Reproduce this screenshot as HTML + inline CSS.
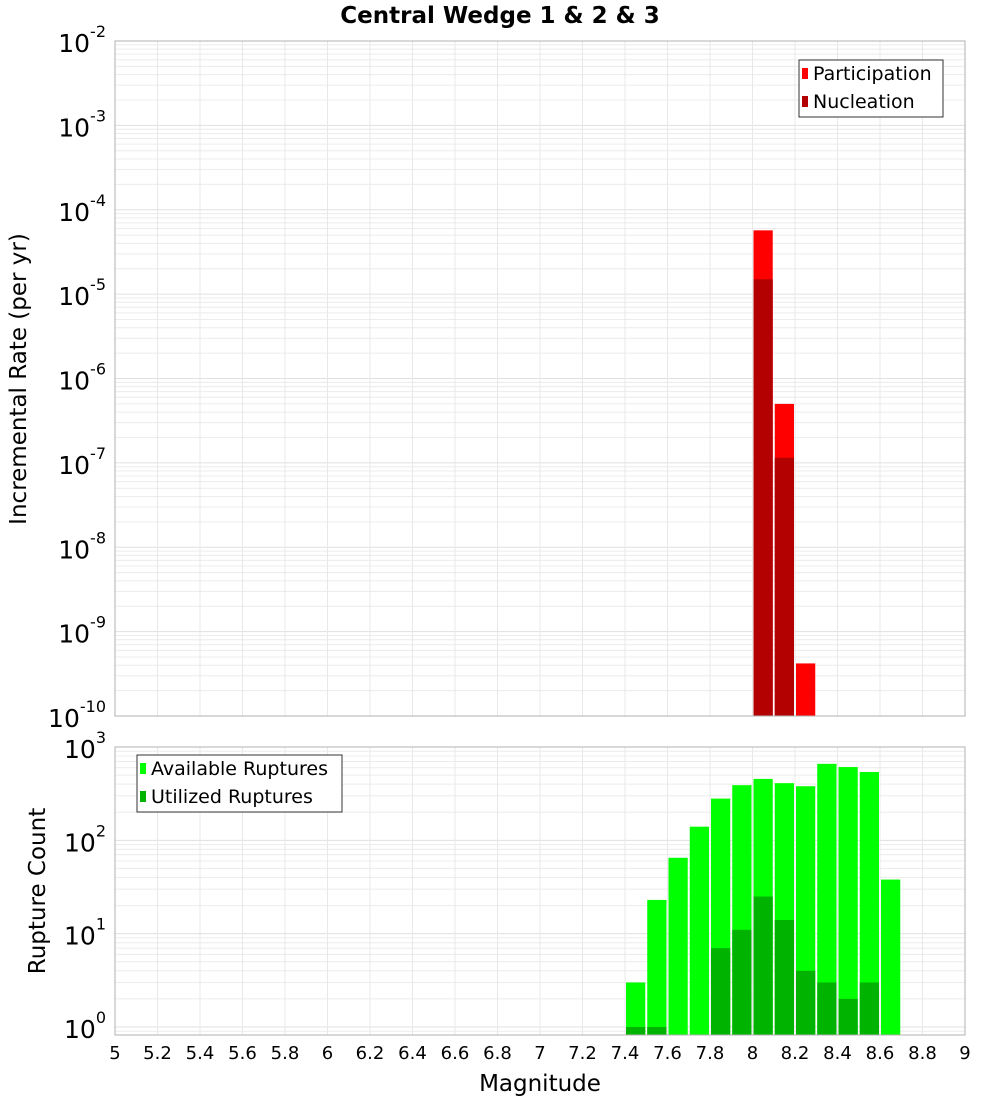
<!DOCTYPE html>
<html><head><meta charset="utf-8"><style>
body{margin:0;background:#fff;font-family:"DejaVu Sans","Liberation Sans",sans-serif}
svg text{font-family:"DejaVu Sans","Liberation Sans",sans-serif}
</style></head><body>
<svg id="c" width="1000" height="1100" xmlns="http://www.w3.org/2000/svg">
<text x="500" y="23" text-anchor="middle" font-size="23" font-weight="bold">Central Wedge 1 &amp; 2 &amp; 3</text>
</svg>
<script>
const binCenters=[7.45,7.55,7.65,7.75,7.85,7.95,8.05,8.15,8.25,8.35,8.45,8.55,8.65];
const participation=[null,null,null,null,null,null,5.7e-5,5e-7,4.2e-10,null,null,null,null];
const nucleation=[null,null,null,null,null,null,1.5e-5,1.15e-7,null,null,null,null,null];
const available=[3,23,65,140,280,390,455,410,380,660,610,540,38];
const utilized=[1,1,null,null,7,11,25,14,4,3,2,3,null];
const xTicks=[5,5.2,5.4,5.6,5.8,6,6.2,6.4,6.6,6.8,7,7.2,7.4,7.6,7.8,8,8.2,8.4,8.6,8.8,9];
const topExp=[-10,-9,-8,-7,-6,-5,-4,-3,-2];
const botExp=[0,1,2,3];
const NS='http://www.w3.org/2000/svg',svg=document.getElementById('c');
function el(t,a,p){const e=document.createElementNS(NS,t);for(const k in a)e.setAttribute(k,a[k]);(p||svg).appendChild(e);return e;}
const X0=115,X1=965;
const xs=v=>X0+(v-5)/4*(X1-X0);
function yTop(v){return 41+(-2-Math.log10(v))*84.375;}
function yBot(v){return 747+(3-Math.log10(v))*93.33;}
function panel(name,y0,y1,ys,e0,e1,exps){
 const g=el('g',{});
 for(let e=e0;e<e1;e++)for(let m=1;m<10;m++){const y=ys(m*Math.pow(10,e));if(y<y0-0.5||y>y1+0.5)continue;
  el('line',{x1:X0,x2:X1,y1:y,y2:y,stroke:m==1?'#e0e0e0':'#ececec','stroke-width':1},g);}
 xTicks.forEach(t=>el('line',{x1:xs(t),x2:xs(t),y1:y0,y2:y1,stroke:'#e8e8e8'},g));
 const r=el('rect',{x:X0,y:y0,width:X1-X0,height:y1-y0,fill:'none',stroke:'#b0b0b0'});
 
 exps.forEach(e=>{const y=ys(Math.pow(10,e));const t=el('text',{x:106,y:y+11,'text-anchor':'end','font-size':25});
  
  t.textContent='10';const s=el('tspan',{dy:-15,'font-size':16},t);s.textContent=String(e);});
}
panel('rate-panel',41,716,yTop,-10,-2,topExp);
panel('count-panel',747,1035,yBot,-1,3,botExp);
function bars(name,vals,ys,base,color){vals.forEach((v,i)=>{if(v==null)return;const c=binCenters[i];
 const y=Math.max(ys(v),0);const r=el('rect',{x:xs(c-0.05)+1,y:y,width:xs(c+0.05)-xs(c-0.05)-2,height:base-y,fill:color});
 });}
bars('participation',participation,yTop,716,'#ff0000');
bars('nucleation',nucleation,yTop,716,'#b30000');
bars('available',available,yBot,1035,'#00ff00');
bars('utilized',utilized,yBot,1035,'#00b300');
el('rect',{x:X0,y:41,width:X1-X0,height:675,fill:'none',stroke:'#b0b0b0'});
el('rect',{x:X0,y:747,width:X1-X0,height:288,fill:'none',stroke:'#b0b0b0'});
xTicks.forEach(t=>{const e=el('text',{x:xs(t),y:1059,'text-anchor':'middle','font-size':18});
 e.textContent=String(t);});
function legend(name,x,y,w,items){const g=el('g',{});
 el('rect',{x:x,y:y,width:w,height:57,fill:'#fff',stroke:'#333'},g);
 items.forEach((it,i)=>{el('rect',{x:x+3,y:y+8+i*28,width:6,height:11,fill:it[1]},g);
  const t=el('text',{x:x+14,y:y+20+i*28,'font-size':19},g);t.textContent=it[0];});}
legend('rate-legend',799,60,144,[['Participation','#ff0000'],['Nucleation','#b30000']]);
legend('count-legend',137,755,205,[['Available Ruptures','#00ff00'],['Utilized Ruptures','#00b300']]);
let t=el('text',{x:540,y:1091,'text-anchor':'middle','font-size':23});t.textContent='Magnitude';
t=el('text',{x:0,y:0,'text-anchor':'middle','font-size':23,transform:'translate(26,379) rotate(-90)'});t.textContent='Incremental Rate (per yr)';
t=el('text',{x:0,y:0,'text-anchor':'middle','font-size':23,transform:'translate(45,891) rotate(-90)'});t.textContent='Rupture Count';
</script>
</body></html>
